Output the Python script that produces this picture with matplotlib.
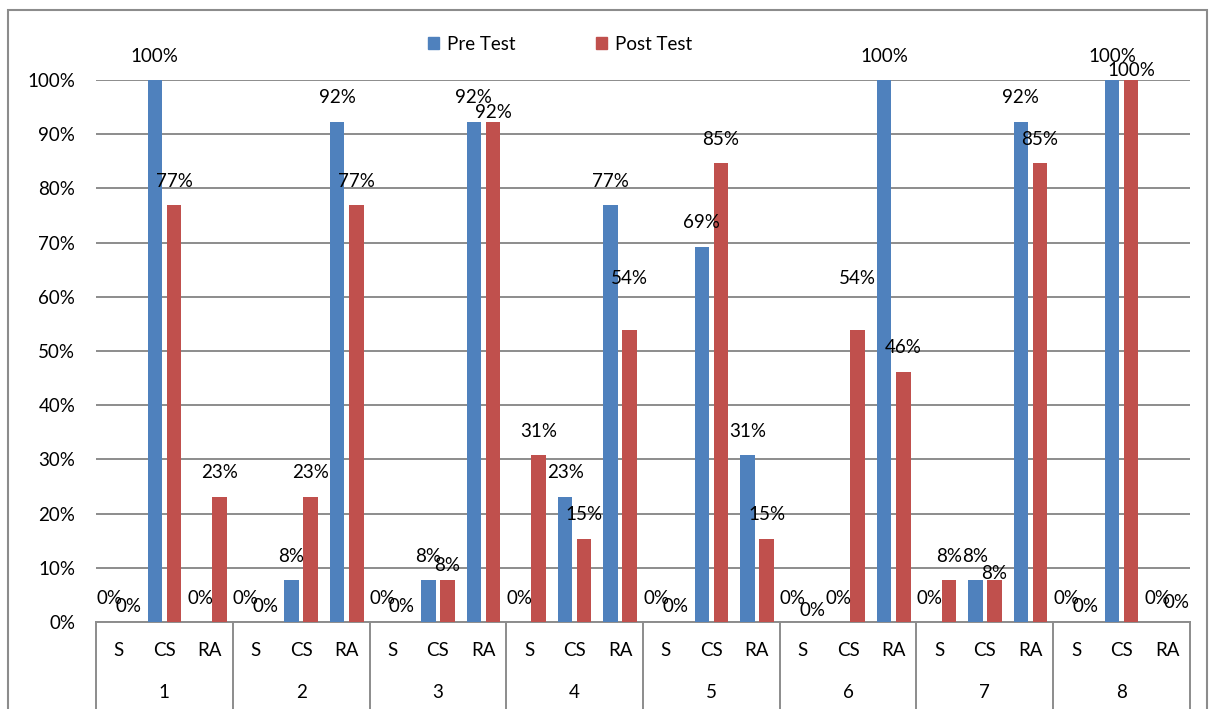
import matplotlib.pyplot as plt
import matplotlib.transforms as mtransforms
from matplotlib.patches import Rectangle, Patch

plt.rcParams['font.family'] = ['Lato', 'DejaVu Sans']

groups = ['1', '2', '3', '4', '5', '6', '7', '8']
subcats = ['S', 'CS', 'RA']

# percent of students, in group order S, CS, RA
pre_test = [0, 100, 0,
            0, 7.7, 92.3,
            0, 7.7, 92.3,
            0, 23.1, 76.9,
            0, 69.2, 30.8,
            0, 0, 100,
            0, 7.7, 92.3,
            0, 100, 0]
post_test = [0, 76.9, 23.1,
             0, 23.1, 76.9,
             0, 7.7, 92.3,
             30.8, 15.4, 53.8,
             0, 84.6, 15.4,
             0, 53.8, 46.2,
             7.7, 7.7, 84.6,
             0, 100, 0]

# label lift above bar top in pixels (post labels get pushed around like in Excel)
pre_lift = [24] * 24
post_lift = [15, 24, 24, 15, 24, 24, 15, 15, 9, 24, 24, 52,
             15, 24, 24, 12, 52, 24, 24, 7, 24, 15, 10, 20]

BLUE = '#4F81BD'
RED = '#C0504D'
GRID = '#8C8C8C'
FS = 13.5

fig = plt.figure(figsize=(12.09, 7.09), dpi=100)
W, H = 1209, 709
ax = fig.add_axes([96 / W, 87 / H, (1190 - 96) / W, (622 - 80) / H])

n = len(groups) * len(subcats)
x = [i + 0.5 for i in range(n)]
bw = 0.32
off = 0.21
ax.bar([v - off for v in x], pre_test, bw, color=BLUE, zorder=3)
ax.bar([v + off for v in x], post_test, bw, color=RED, zorder=3)

for i in range(n):
    ax.annotate(f'{round(pre_test[i])}%', (x[i] - off, pre_test[i]),
                xytext=(0, pre_lift[i]), textcoords='offset pixels',
                ha='center', va='center', fontsize=FS, annotation_clip=False, zorder=5)
    ax.annotate(f'{round(post_test[i])}%', (x[i] + off, post_test[i]),
                xytext=(0, post_lift[i]), textcoords='offset pixels',
                ha='center', va='center', fontsize=FS, annotation_clip=False, zorder=5)

ax.set_xlim(0, n)
ax.set_ylim(0, 100)
ax.set_yticks(range(0, 101, 10))
ax.set_yticklabels([f'{v}%' for v in range(0, 101, 10)], fontsize=FS)
ax.tick_params(axis='y', length=0, pad=15)
ax.set_xticks([])
ax.grid(axis='y', color=GRID, lw=1.4, zorder=0)
for s in ['left', 'right', 'top']:
    ax.spines[s].set_visible(False)
ax.spines['bottom'].set_color(GRID)
ax.spines['bottom'].set_linewidth(1.4)

# two-level category axis
trans = mtransforms.blended_transform_factory(ax.transData, ax.transAxes)
for g in range(len(groups) + 1):
    ax.plot([g * 3, g * 3], [0, -0.2], color=GRID, lw=1.4, transform=trans, clip_on=False)
for i in range(n):
    ax.text(x[i], -0.052, subcats[i % 3], transform=trans, ha='center', va='center', fontsize=FS)
for g, name in enumerate(groups):
    ax.text(g * 3 + 1.5, -0.13, name, transform=trans, ha='center', va='center', fontsize=FS)

handles = [Patch(color=BLUE), Patch(color=RED)]
fig.legend(handles, ['Pre Test', 'Post Test'], loc='center', bbox_to_anchor=(0.463, 1 - 44 / H),
           ncol=2, frameon=False, fontsize=FS, handlelength=0.6, handleheight=0.6,
           handletextpad=0.4, columnspacing=4.3)

fig.patches.append(Rectangle((8 / W, -0.01), 1199 / W, 1 - 10 / H + 0.01, transform=fig.transFigure,
                             fill=False, edgecolor=GRID, lw=1.5))

fig.savefig('out.png', dpi=100)
